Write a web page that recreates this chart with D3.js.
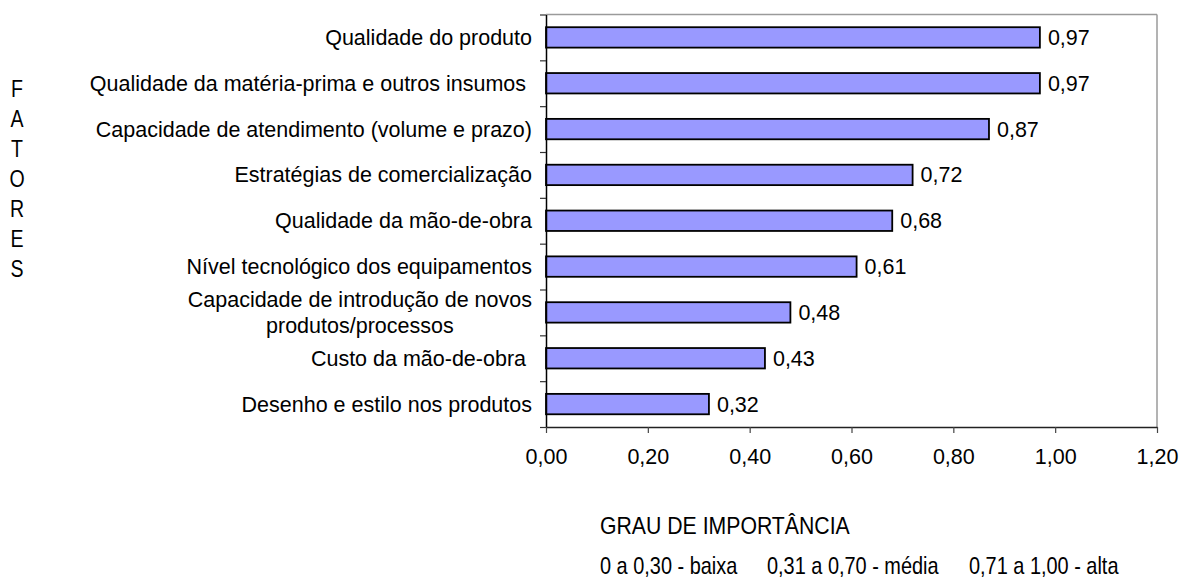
<!DOCTYPE html>
<html>
<head>
<meta charset="utf-8">
<script src="https://cdn.jsdelivr.net/npm/d3@7"></script>
<style>
  html, body { margin: 0; padding: 0; background: #fff; }
  svg { display: block; }
  .lbl { font-family: "Liberation Sans", Arial, sans-serif; font-size: 21.5px; fill: #000; white-space: pre; }
  .narrow { font-family: "Liberation Sans", Arial, sans-serif; fill: #000; }
</style>
</head>
<body>
<svg id="chart" width="1182" height="579"></svg>
<script>
// Importance factors and their degree of importance
const categories = [
  "Qualidade do produto",
  "Qualidade da matéria-prima e outros insumos ",
  "Capacidade de atendimento (volume e prazo)",
  "Estratégias de comercialização",
  "Qualidade da mão-de-obra",
  "Nível tecnológico dos equipamentos",
  "Capacidade de introdução de novos\nprodutos/processos",
  "Custo da mão-de-obra ",
  "Desenho e estilo nos produtos"
];
const values = [0.97, 0.97, 0.87, 0.72, 0.68, 0.61, 0.48, 0.43, 0.32];
const xTicks = [0, 0.2, 0.4, 0.6, 0.8, 1.0, 1.2];
const yTitle = "FATORES";
const xTitle = "GRAU DE IMPORTÂNCIA";
const legendItems = ["0 a 0,30 - baixa", "0,31 a 0,70 - média", "0,71 a 1,00 - alta"];

const fmt = d => d.toFixed(2).replace(".", ",");

const svg = d3.select("#chart");
const plot = { left: 546, right: 1157, top: 14.5, bottom: 427 };

const x = d3.scaleLinear().domain([0, 1.2]).range([plot.left, plot.right]);
const y = d3.scaleBand()
  .domain(d3.range(categories.length))
  .range([plot.top, plot.bottom])
  .paddingInner(0.555)
  .paddingOuter(0.2775);

// plot frame (top and right edges)
svg.append("line")
  .attr("x1", plot.left).attr("x2", plot.right)
  .attr("y1", plot.top).attr("y2", plot.top)
  .attr("stroke", "#9a9a9a").attr("stroke-width", 1.5);
svg.append("line")
  .attr("x1", plot.right).attr("x2", plot.right)
  .attr("y1", plot.top).attr("y2", plot.bottom)
  .attr("stroke", "#9a9a9a").attr("stroke-width", 1.5);

// bars
svg.append("g").selectAll("rect")
  .data(values)
  .join("rect")
  .attr("x", x(0))
  .attr("y", (d, i) => y(i))
  .attr("width", d => x(d) - x(0))
  .attr("height", y.bandwidth())
  .attr("fill", "#9999ff")
  .attr("stroke", "#000")
  .attr("stroke-width", 1.8);

// value labels
svg.append("g").selectAll("text")
  .data(values)
  .join("text")
  .attr("class", "lbl")
  .attr("x", d => x(d) + 8)
  .attr("y", (d, i) => y(i) + y.bandwidth() / 2)
  .attr("dy", "0.35em")
  .text(fmt);

// category axis: ticks between the bands
const yEdge = d3.scaleLinear().domain([0, categories.length]).range([plot.top, plot.bottom]);
const yAxis = svg.append("g")
  .attr("transform", `translate(${plot.left},0)`)
  .call(d3.axisLeft(yEdge).tickValues(d3.range(categories.length + 1)).tickSize(6).tickSizeOuter(0).tickFormat(""));
yAxis.select(".domain").attr("stroke", "#000").attr("stroke-width", 1.5);
yAxis.selectAll(".tick line").attr("stroke", "#333").attr("stroke-width", 1.2);

// value axis
const xAxis = svg.append("g")
  .attr("transform", `translate(0,${plot.bottom})`)
  .call(d3.axisBottom(x).tickValues(xTicks).tickSize(6).tickSizeOuter(0).tickFormat(fmt));
xAxis.select(".domain").attr("stroke", "#222").attr("stroke-width", 1.5);
xAxis.selectAll(".tick line").attr("stroke", "#444").attr("stroke-width", 1.2);
xAxis.selectAll(".tick text")
  .attr("class", "lbl")
  .attr("y", 22)
  .attr("dy", "0.71em")
  .attr("fill", "#000");

// category labels (right-aligned, multi-line ones centred on their widest line)
const labelRight = 532;
const catG = svg.append("g");
categories.forEach((c, i) => {
  const lines = c.split("\n");
  const cy = y(i) + y.bandwidth() / 2;
  const t = catG.append("text").attr("class", "lbl");
  if (lines.length === 1) {
    t.attr("x", labelRight).attr("y", cy).attr("dy", "0.35em")
      .attr("text-anchor", "end").text(lines[0]);
  } else {
    const lh = 26;
    const probe = catG.append("text").attr("class", "lbl").text(lines[0]);
    const w = probe.node().getComputedTextLength();
    probe.remove();
    const cx = labelRight - w / 2;
    t.attr("text-anchor", "middle");
    lines.forEach((ln, k) => {
      t.append("tspan")
        .attr("x", cx)
        .attr("y", cy + (k - (lines.length - 1) / 2) * lh)
        .attr("dy", "0.35em")
        .text(ln);
    });
  }
});

// condensed text: regular face squeezed horizontally
function narrowText(sel, px, sx, xPos, yPos, anchor) {
  sel.attr("class", "narrow")
    .attr("font-size", px)
    .attr("text-anchor", anchor || "start")
    .attr("dy", "0.35em")
    .attr("transform", (d, i) => `translate(${xPos(d, i)},${yPos(d, i)}) scale(${sx},1)`);
}

// vertical axis title, one letter per line
svg.append("g").selectAll("text")
  .data(yTitle.split(""))
  .join("text")
  .call(narrowText, 23, 0.85, () => 17, (d, i) => 89 + i * 30, "middle")
  .text(d => d);

// horizontal axis title
svg.append("g").selectAll("text")
  .data([xTitle])
  .join("text")
  .call(narrowText, 24, 0.885, () => 600, () => 526)
  .text(d => d);

// importance scale legend
const legendX = [600, 767, 969];
svg.append("g").selectAll("text")
  .data(legendItems)
  .join("text")
  .call(narrowText, 24, 0.83, (d, i) => legendX[i], () => 566)
  .text(d => d);
</script>
</body>
</html>
